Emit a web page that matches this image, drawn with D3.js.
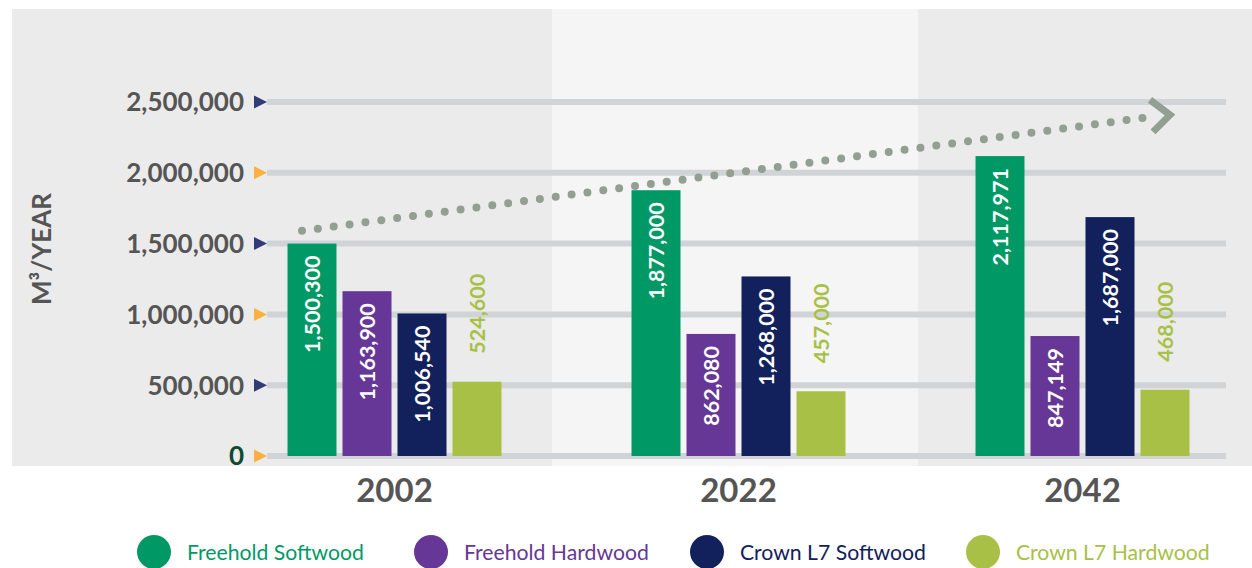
<!DOCTYPE html>
<html>
<head>
<meta charset="utf-8">
<script src="https://cdn.jsdelivr.net/npm/d3@7"></script>
<style>
  html, body { margin: 0; padding: 0; background: #ffffff; }
  svg { display: block; font-family: Lato, "Open Sans", sans-serif; }
</style>
</head>
<body>
<svg id="chart" width="1252" height="568"></svg>
<script>
// ---- data ----
const years = ["2002", "2022", "2042"];
const seriesNames = ["Freehold Softwood", "Freehold Hardwood", "Crown L7 Softwood", "Crown L7 Hardwood"];
const freeholdSoftwood = [1500300, 1877000, 2117971];
const freeholdHardwood = [1163900, 862080, 847149];
const crownL7Softwood = [1006540, 1268000, 1687000];
const crownL7Hardwood = [524600, 457000, 468000];
const yTicks = [0, 500000, 1000000, 1500000, 2000000, 2500000];
const trendValues = [1590000, 2395000];

const seriesColors = ["#009966", "#663796", "#12205c", "#a9c047"];
const markerColors = ["#fbb040", "#323a78"];

const allSeries = [freeholdSoftwood, freeholdHardwood, crownL7Softwood, crownL7Hardwood];

const svg = d3.select("#chart");

// background panels
const panels = [[12, 552, "#ebebeb"], [552, 918, "#f4f5f4"], [918, 1252, "#ebebeb"]];
svg.selectAll("rect.panel").data(panels).join("rect")
  .attr("class", "panel")
  .attr("x", d => d[0]).attr("y", 9)
  .attr("width", d => d[1] - d[0]).attr("height", 457)
  .attr("fill", d => d[2]);

// scales
const y = d3.scaleLinear().domain([0, 2500000]).range([456, 102]);
const x0 = d3.scalePoint().domain(years).range([394.5, 1082.5]);
const x1 = d3.scaleBand().domain(seriesNames).range([-107, 107]).paddingInner(6 / 55).paddingOuter(0);

// grid lines
svg.append("g").selectAll("line").data(yTicks).join("line")
  .attr("x1", 267).attr("x2", 1226)
  .attr("y1", d => y(d)).attr("y2", d => y(d))
  .attr("stroke", "#d1d4d7").attr("stroke-width", 6);

// axis markers & labels
const axisG = svg.append("g");
axisG.selectAll("path").data(yTicks).join("path")
  .attr("d", d => `M254,${y(d) - 6.5} L267,${y(d)} L254,${y(d) + 6.5} Z`)
  .attr("fill", (d, i) => markerColors[i % 2]);
axisG.selectAll("text").data(yTicks).join("text")
  .attr("x", 244).attr("y", d => y(d)).attr("dy", "0.36em")
  .attr("text-anchor", "end")
  .attr("font-size", 26).attr("font-weight", 700)
  .attr("fill", d => d === 0 ? "#0d4a30" : "#555555")
  .text(d => d3.format(",")(d));

// y-axis title
svg.append("text")
  .attr("transform", "translate(51,249) rotate(-90)")
  .attr("text-anchor", "middle")
  .attr("font-size", 26).attr("font-weight", 700).attr("fill", "#555555")
  .text("M³/YEAR");

// bars
const rows = [];
years.forEach((yr, gi) => {
  seriesNames.forEach((s, si) => {
    rows.push({ year: yr, series: s, si, value: allSeries[si][gi] });
  });
});

const barG = svg.append("g");
barG.selectAll("rect").data(rows).join("rect")
  .attr("x", d => x0(d.year) + x1(d.series))
  .attr("y", d => y(d.value))
  .attr("width", x1.bandwidth())
  .attr("height", d => y(0) - y(d.value))
  .attr("fill", d => seriesColors[d.si]);

// bar labels
barG.selectAll("text").data(rows).join("text")
  .attr("transform", d => {
    const cx = x0(d.year) + x1(d.series) + x1.bandwidth() / 2;
    const ty = d.si === 3 ? y(d.value) - 28 : y(d.value) + 12;
    return `translate(${cx},${ty}) rotate(-90)`;
  })
  .attr("text-anchor", d => d.si === 3 ? "start" : "end")
  .attr("dy", "0.36em")
  .attr("font-size", 21.5).attr("font-weight", 700)
  .attr("fill", d => d.si === 3 ? "#a9c047" : "#ffffff")
  .text(d => d3.format(",")(d.value));

// year labels
svg.append("g").selectAll("text").data(years).join("text")
  .attr("x", d => x0(d)).attr("y", 502)
  .attr("text-anchor", "middle")
  .attr("font-size", 33).attr("font-weight", 700).attr("fill", "#555555")
  .text(d => d);

// dotted trend arrow
const tx0 = x0(years[0]) - 92.5, tx1 = x0(years[2]) + 67.5;
svg.append("line")
  .attr("x1", tx0).attr("y1", y(trendValues[0]))
  .attr("x2", tx1).attr("y2", y(trendValues[1]))
  .attr("stroke", "#949f94").attr("stroke-width", 8)
  .attr("stroke-linecap", "round").attr("stroke-dasharray", "0 16");
const tipX = tx1 + 20, tipY = y(trendValues[1]) - 2;
svg.append("path")
  .attr("d", `M${tipX - 20},${tipY - 15} L${tipX},${tipY} L${tipX - 17},${tipY + 17}`)
  .attr("fill", "none").attr("stroke", "#949f94").attr("stroke-width", 7);

// legend
const legendX = [154, 431, 707, 983];
const lg = svg.append("g").selectAll("g").data(seriesNames).join("g")
  .attr("transform", (d, i) => `translate(${legendX[i]},552)`);
lg.append("circle").attr("r", 17).attr("fill", (d, i) => seriesColors[i]);
lg.append("text").attr("x", 33).attr("y", 8)
  .attr("font-size", 21.2).attr("fill", (d, i) => seriesColors[i])
  .text(d => d);
</script>
</body>
</html>
